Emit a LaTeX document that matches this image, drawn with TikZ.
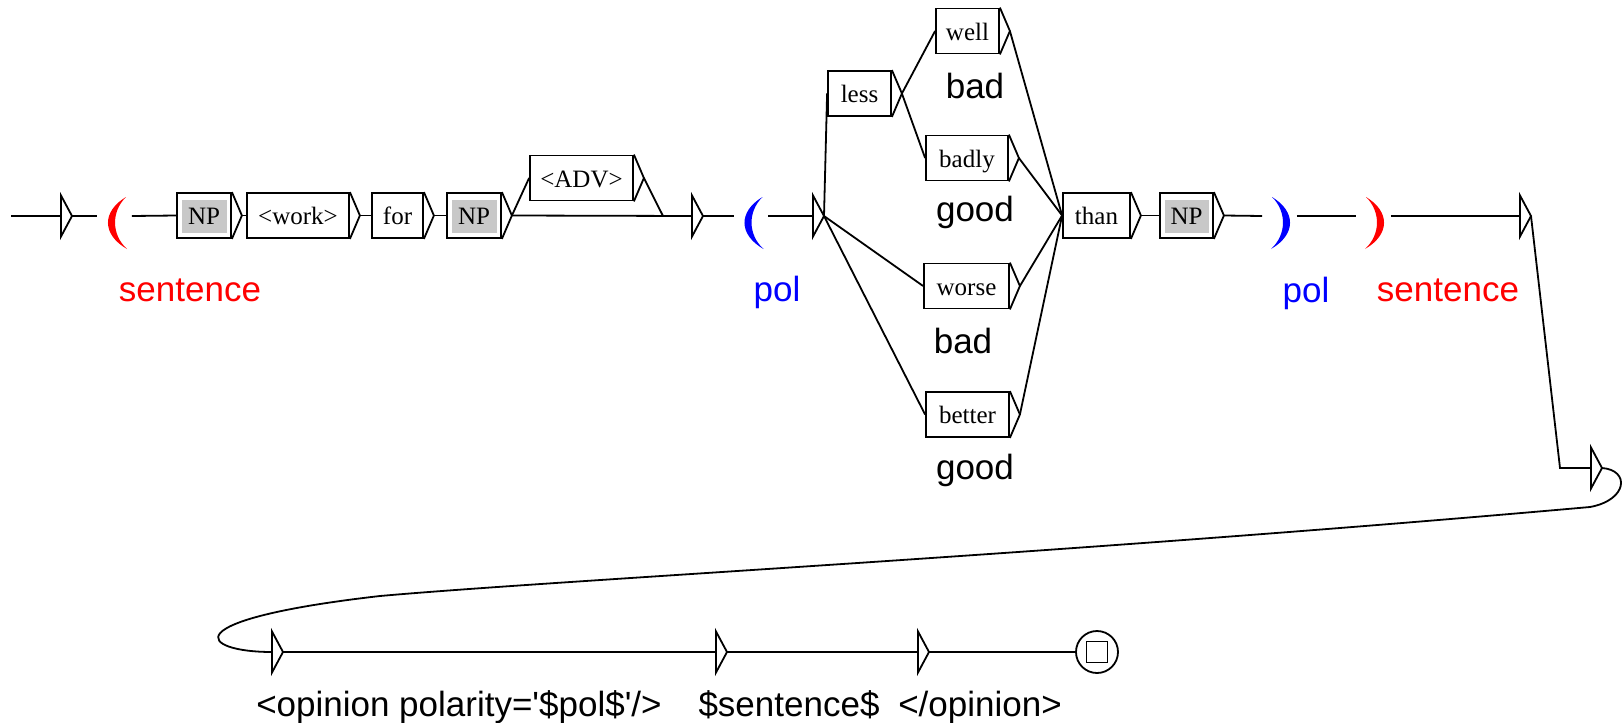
\documentclass[tikz,border=0pt]{standalone}
\usetikzlibrary{calc}
\font\labf="Liberation Sans" at 17.5pt
\font\boxf="Liberation Serif" at 12.5pt
\definecolor{npgray}{RGB}{200,200,200}
\tikzset{
  ubox/.style={draw, inner sep=0pt, minimum height=22.5pt, text height=11pt, text depth=2pt, font=\boxf},
  npbox/.style={ubox, path picture={\fill[npgray] ($(path picture bounding box.north west)+(5,7)$) rectangle ($(path picture bounding box.south east)+(-4,-5)$);}},
  lab/.style={anchor=base, inner sep=0pt, font=\labf},
  pnode/.style={inner sep=0pt, minimum width=16.5pt, minimum height=26pt},
}
\newcommand\etri[2]{\coordinate (#1) at #2; \draw (#1) ++(0,-20.5) -- ++(11,20.5) coordinate (#1o) -- ++(-11,20.5) -- cycle;}
\newcommand\outtri[1]{\draw (#1.north east) -- ([xshift=5pt]#1.east) coordinate (#1o) -- (#1.south east);}
\newcommand\gparL[2]{\fill[#2, shift={($(#1.center)+(3,6.5)$)}] (8.5,-25.5) .. controls (-15.7,-11) and (-15.7,12) .. (9.5,26.5) .. controls (-6.3,12) and (-6.3,-11) .. (8.5,-25.5) -- cycle;}
\newcommand\gparR[2]{\fill[#2, shift={($(#1.center)+(1,6.5)$)}] (-8.5,-25.5) .. controls (15.7,-11) and (15.7,12) .. (-9.5,26.5) .. controls (6.3,12) and (6.3,-11) .. (-8.5,-25.5) -- cycle;}
\begin{document}
\begin{tikzpicture}[x=0.5pt,y=-0.5pt,line width=0.9pt]
\useasboundingbox (0,0) rectangle (1623,723);
% states
\coordinate (st) at (11,216);
\etri{i0}{(61,216)}
\etri{e1}{(692,216)}
\etri{e2}{(813,216)}
\etri{e3}{(1520,216)}
\etri{e4}{(1591,468)}
\etri{e5}{(272,652)}
\etri{e6}{(716,652)}
\etri{e7}{(918,652)}
\coordinate (j1) at (663,216);
\coordinate (k1) at (1560,468);
% parens
\node[pnode] (pa1) at (114.5,216) {}; \gparL{pa1}{red}
\node[pnode] (pa2) at (751,216) {}; \gparL{pa2}{blue}
\node[pnode] (pb1) at (1279.5,216) {}; \gparR{pb1}{blue}
\node[pnode] (pb2) at (1373.5,216) {}; \gparR{pb2}{red}
% boxes
\node[npbox, minimum width=27pt] (np1) at (204,215.5) {NP};
\node[ubox, minimum width=51pt] (work) at (298,215.5) {<work>};
\node[ubox, minimum width=25.5pt] (for) at (397.5,215.5) {for};
\node[npbox, minimum width=27pt] (np2) at (474,215.5) {NP};
\node[ubox, minimum width=51.5pt] (adv) at (581.5,178) {<ADV>};
\node[ubox, minimum width=31.5pt] (less) at (859.5,93.5) {less};
\node[ubox, minimum width=31.5pt] (well) at (967.5,31) {well};
\node[ubox, minimum width=41pt] (badly) at (967,158) {badly};
\node[ubox, minimum width=42.5pt] (worse) at (966.5,286) {worse};
\node[ubox, minimum width=41.5pt] (better) at (967.5,414.5) {better};
\node[ubox, minimum width=33.5pt] (than) at (1096.5,215.5) {than};
\node[npbox, minimum width=26.5pt] (np3) at (1186.5,215.5) {NP};
\outtri{np1}\outtri{work}\outtri{for}\outtri{np2}\outtri{adv}\outtri{less}
\outtri{well}\outtri{badly}\outtri{worse}\outtri{better}\outtri{than}\outtri{np3}
% final state
\node[circle, draw, inner sep=0pt, minimum size=21pt] (fin) at (1097,652) {};
\draw ($(fin.center)+(-10.5,-10.5)$) rectangle ($(fin.center)+(10.5,10.5)$);
% connectors
\draw (st) -- (i0);
\draw (i0o) -- (pa1.west);
\draw (pa1.east) -- (np1.west);
\draw (np1o) -- (work.west);
\draw (worko) -- (for.west);
\draw (foro) -- (np2.west);
\draw (np2o) -- (adv.west);
\draw (np2o) -- (e1);
\draw (advo) -- (j1);
\draw (e1o) -- (pa2.west);
\draw (pa2.east) -- (e2);
\draw (e2o) -- (less.west);
\draw (e2o) -- (worse.west);
\draw (e2o) -- (better.west);
\draw (lesso) -- (well.west);
\draw (lesso) -- (badly.west);
\draw (wello) -- (than.west);
\draw (badlyo) -- (than.west);
\draw (worseo) -- (than.west);
\draw (bettero) -- (than.west);
\draw (thano) -- (np3.west);
\draw (np3o) -- (pb1.west);
\draw (pb1.east) -- (pb2.west);
\draw (pb2.east) -- (e3);
\draw (e3o) -- (k1) -- (e4);
\draw (e4o) .. controls (1630,470) and (1628,500) .. (1590,507)
  .. controls (1050,555) and (560,580) .. (380,596)
  .. controls (170,620) and (200,652) .. (e5);
\draw (e5o) -- (e6);
\draw (e6o) -- (e7);
\draw (e7o) -- (fin.west);
% labels
\node[lab, red] (l1) at (190,301) {sentence};
\node[lab, blue] (l2) at (777,301) {pol};
\node[lab] (l3) at (975,98) {bad};
\node[lab] (l4) at (975,221) {good};
\node[lab] (l5) at (963,353) {bad};
\node[lab] (l6) at (975,479) {good};
\node[lab, blue] (l7) at (1306,302) {pol};
\node[lab, red] (l8) at (1448,301) {sentence};
\node[lab] (l9) at (459,716) {<opinion polarity='\$pol\$'/>};
\node[lab] (l10) at (789,716) {\$sentence\$};
\node[lab] (l11) at (980,716) {</opinion>};
\end{tikzpicture}
\end{document}
